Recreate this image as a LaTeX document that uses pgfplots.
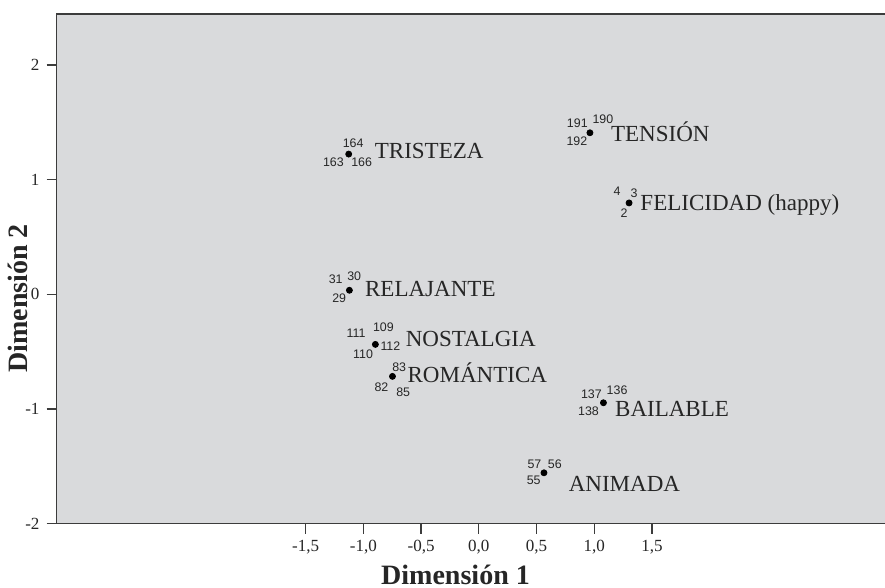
\documentclass[border=0pt]{standalone}
\usepackage{fontspec}
\setmainfont{Liberation Serif}
\newfontfamily\numfont{Liberation Sans}
\usepackage{pgfplots}
\pgfplotsset{compat=1.18}
\definecolor{bg}{RGB}{217,218,220}
\definecolor{ax}{RGB}{60,60,60}
\newcommand{\catfont}{\fontsize{11.5}{13}\selectfont}
\newcommand{\lab}[5]{\node[anchor=base west,inner sep=0pt,font=\catfont,text=black!85,xshift=#3pt,yshift=#4pt] at (axis cs:#1,#2) {#5};}
\newcommand{\nm}[5]{\node[anchor=center,inner sep=0pt,font=\numfont\fontsize{6.2}{7}\selectfont,text=black!85,xshift=#3pt,yshift=#4pt] at (axis cs:#1,#2) {#5};}
\begin{document}
\begin{tikzpicture}
\begin{axis}[
  scale only axis, width=414.25pt, height=254.5pt,
  xmin=-3.657, xmax=3.526, ymin=-2, ymax=2.445,
  axis background/.style={fill=bg},
  axis line style={ax, line width=0.65pt},
  xtick={-1.5,-1,-0.5,0,0.5,1,1.5},
  xticklabels={{-1,5},{-1,0},{-0,5},{0,0},{0,5},{1,0},{1,5}},
  ytick={-2,-1,0,1,2}, yticklabels={-2,-1,0,1,2},
  tick align=outside, xtick pos=bottom, ytick pos=left,
  major tick length=5pt,
  tick style={ax, line width=0.65pt},
  ticklabel style={font=\fontsize{8.5}{10}\selectfont, text=black!85},
  xlabel={\textbf{Dimensión 1}}, ylabel={\textbf{Dimensión 2}},
  xlabel style={at={(axis description cs:0.481,-0.1195)}, anchor=base, font=\fontsize{14}{16}\selectfont, text=black!85},
  ylabel style={at={(axis description cs:-0.0356,0.442)}, anchor=base, font=\fontsize{14}{16}\selectfont, text=black!85},
  clip=false,
]
\coordinate (bl) at (rel axis cs:0,0);
\coordinate (tr) at (rel axis cs:1,1);
\addplot[only marks, mark=*, mark size=1.5pt, black] coordinates {
  (-1.127,1.223) (0.962,1.409) (1.301,0.797) (-1.121,0.035)
  (-0.896,-0.437) (-0.748,-0.716) (1.079,-0.946) (0.564,-1.557)
};
\lab{-1.127}{1.223}{12.85}{-2.15}{TRISTEZA}
\lab{0.962}{1.409}{10.35}{-4.15}{TENSIÓN}
\lab{1.301}{0.797}{5.5}{-3.8}{FELICIDAD (happy)}
\lab{-1.121}{0.035}{7.65}{-3.35}{RELAJANTE}
\lab{-0.896}{-0.437}{15}{-1}{NOSTALGIA}
\lab{-0.748}{-0.716}{7.35}{-3.15}{ROMÁNTICA}
\lab{1.079}{-0.946}{5.65}{-6.7}{BAILABLE}
\lab{0.564}{-1.557}{12.2}{-9.2}{ANIMADA}
\nm{-1.127}{1.223}{2.2}{5.65}{164}
\nm{-1.127}{1.223}{-7.65}{-3.85}{163}
\nm{-1.127}{1.223}{6.45}{-4}{166}
\nm{0.962}{1.409}{-6.3}{4.7}{191}
\nm{0.962}{1.409}{6.5}{6.7}{190}
\nm{0.962}{1.409}{-6.5}{-4.3}{192}
\nm{1.301}{0.797}{-6}{5.7}{4}
\nm{1.301}{0.797}{2.5}{4.7}{3}
\nm{1.301}{0.797}{-2.5}{-5.3}{2}
\nm{-1.121}{0.035}{-6.85}{5.35}{31}
\nm{-1.121}{0.035}{2.4}{7}{30}
\nm{-1.121}{0.035}{-5.1}{-3.85}{29}
\nm{-0.896}{-0.437}{-9.6}{5.65}{111}
\nm{-0.896}{-0.437}{4}{8.65}{109}
\nm{-0.896}{-0.437}{7.5}{-0.85}{112}
\nm{-0.896}{-0.437}{-6.15}{-5}{110}
\nm{-0.748}{-0.716}{3.35}{4.35}{83}
\nm{-0.748}{-0.716}{-5.5}{-5.35}{82}
\nm{-0.748}{-0.716}{5.35}{-8}{85}
\nm{1.079}{-0.946}{-6}{4.5}{137}
\nm{1.079}{-0.946}{6.8}{6.5}{136}
\nm{1.079}{-0.946}{-7.45}{-4.2}{138}
\nm{0.564}{-1.557}{-4.75}{4.15}{57}
\nm{0.564}{-1.557}{5.45}{4.15}{56}
\nm{0.564}{-1.557}{-5.15}{-3.85}{55}
\end{axis}
\pgfresetboundingbox
\path[use as bounding box] ([xshift=-28.25pt,yshift=-32pt]bl) rectangle ([xshift=-0.5pt,yshift=7pt]tr);
\end{tikzpicture}
\end{document}
